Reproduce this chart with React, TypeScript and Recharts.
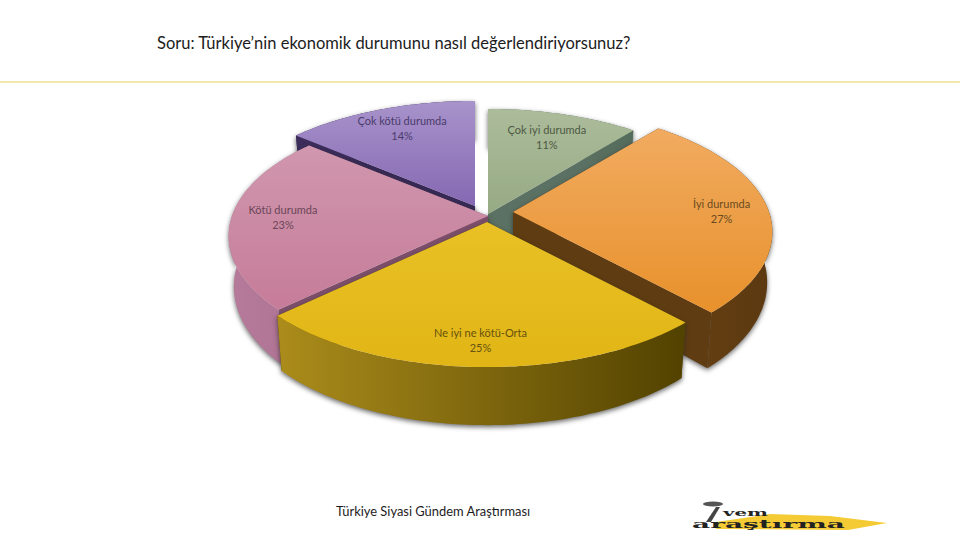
import React from "react";
import { PieChart, Pie } from "recharts";

const categories = ["Çok iyi durumda", "İyi durumda", "Ne iyi ne kötü-Orta", "Kötü durumda", "Çok kötü durumda"];
const values = [11, 27, 25, 23, 14];
const tableData = categories.map((name, i) => ({ name, value: values[i] }));

// layout and style constants
const paintOrder = [4, 0, 3, 1, 2];
const explodeX = [1, 26, 0, 1, -12];
const explodeY = [2, 0, 10, 4, -6];
const labelRadius = [0.748, 0.816, 0.84, 0.8, 0.78];
const labelNudge = [0.2, 1.1, -0.3, 1.3, 1.2];
const topFrom = ["#acbc9b", "#f1ab60", "#e9c126", "#d097ae", "#a893cb"];
const topTo = ["#96aa84", "#e8912c", "#e1b515", "#c67c99", "#8568b2"];
const wallFrom = ["#66796a", "#6a4314", "#ab8c1b", "#b67b9a", "#3c2d5c"];
const wallTo = ["#556b5c", "#5b3810", "#524200", "#ad7091", "#35274f"];
const edge = ["#5b7163", "#5f3c11", "#5c4a05", "#7d4f6a", "#382a56"];
const labelColor = ["#4d5843", "#6b4a1f", "#66520e", "#6b4658", "#4b3b6b"];

const PERSP = 0.16;
const FLAT = 0.476;

function point(theta: number, r: number, R: number) {
  const t = (theta * Math.PI) / 180;
  const u = Math.sin(t) * r;
  const v = -Math.cos(t) * r;
  const d = 1 - PERSP * v;
  return { x: (R * u) / d, y: (R * FLAT * v) / d, v };
}

function lower(p: { x: number; y: number; v: number }) {
  return { x: p.x * 0.98, y: p.y * 0.98 + 49 + 12 * p.v };
}

function pathOf(pts: { x: number; y: number }[], ox: number, oy: number) {
  return "M" + pts.map((p) => `${(p.x + ox).toFixed(1)},${(p.y + oy).toFixed(1)}`).join("L") + "Z";
}

function Slice3D(props: any) {
  const { name, cx, cy, outerRadius, startAngle, endAngle, layer } = props;
  const i = categories.indexOf(name ?? props.payload?.name);
  if (i !== layer) return null;
  const a = 90 - startAngle;
  const b = 90 - endAngle;
  const R = outerRadius;
  const ox = cx + explodeX[i];
  const oy = cy + explodeY[i];
  const arc: any[] = [];
  const steps = Math.max(2, Math.ceil(b - a));
  for (let k = 0; k <= steps; k++) arc.push(point(a + ((b - a) * k) / steps, 1, R));
  const apex = { x: 0, y: 0, v: 0 };
  const first = arc[0];
  const last = arc[arc.length - 1];
  const wall = [...arc, ...arc.map(lower).reverse()];
  const mid = (a + b) / 2 + labelNudge[i];
  const lab = point(mid, labelRadius[i], R);
  return (
    <g>
      <g style={{ filter: "drop-shadow(0px 2px 2.5px rgba(40,40,40,.7))" }}>
        <path d={pathOf([apex, first, lower(first), lower(apex)], ox, oy)} fill={edge[i]} />
        <path d={pathOf([apex, last, lower(last), lower(apex)], ox, oy)} fill={edge[i]} />
        <path d={pathOf(wall, ox, oy)} fill={`url(#wall${i})`} />
      </g>
      <path d={pathOf([apex, ...arc], ox, oy)} fill={`url(#top${i})`} />
      <text
        x={lab.x + ox}
        y={lab.y + oy - 3}
        textAnchor="middle"
        fontFamily="Lato, sans-serif"
        fontSize={11}
        fill={labelColor[i]}
      >
        {categories[i]}
      </text>
      <text
        x={lab.x + ox}
        y={lab.y + oy + 12}
        textAnchor="middle"
        fontFamily="Lato, sans-serif"
        fontSize={11}
        fill={labelColor[i]}
      >
        {values[i]}%
      </text>
    </g>
  );
}

export default function App() {
  return (
    <div style={{ position: "absolute", left: 0, top: 0, width: 960, height: 540, background: "#fff", overflow: "hidden" }}>
      <div
        style={{
          position: "absolute",
          left: 157,
          top: 33,
          fontFamily: "Lato, sans-serif",
          fontSize: 16.5,
          color: "#1c1c1c",
          whiteSpace: "nowrap",
        }}
      >
        Soru: Türkiye’nin ekonomik durumunu nasıl değerlendiriyorsunuz?
      </div>
      <div style={{ position: "absolute", left: 0, top: 81, width: 960, height: 2, background: "#f4e9ad" }} />
      <PieChart width={960} height={540} margin={{ top: 0, right: 0, bottom: 0, left: 0 }} style={{ position: "absolute", left: 0, top: 0 }}>
        <defs>
          {categories.map((_, i) => (
            <linearGradient key={"t" + i} id={`top${i}`} x1="0" y1="0" x2="0" y2="1">
              <stop offset="0%" stopColor={topFrom[i]} />
              <stop offset="100%" stopColor={topTo[i]} />
            </linearGradient>
          ))}
          {categories.map((_, i) => (
            <linearGradient key={"w" + i} id={`wall${i}`} x1="0" y1="0" x2="1" y2="0">
              <stop offset="0%" stopColor={wallFrom[i]} />
              <stop offset="100%" stopColor={wallTo[i]} />
            </linearGradient>
          ))}
        </defs>
        {paintOrder.map((layer) => (
          <Pie
            key={layer}
            data={tableData}
            dataKey="value"
            nameKey="name"
            cx={487}
            cy={212}
            innerRadius={0}
            outerRadius={256}
            startAngle={90}
            endAngle={-270}
            stroke="none"
            isAnimationActive={false}
            shape={(p: any) => <Slice3D {...p} layer={layer} />}
          />
        ))}
      </PieChart>
      <div
        style={{
          position: "absolute",
          left: 336,
          top: 503,
          fontFamily: "Lato, sans-serif",
          fontSize: 12.9,
          color: "#1c1c1c",
          whiteSpace: "nowrap",
        }}
      >
        Türkiye Siyasi Gündem Araştırması
      </div>
      <svg width={960} height={540} style={{ position: "absolute", left: 0, top: 0, pointerEvents: "none" }}>
        <polygon points="716,522 770,514 830,516 887,523 848,530 716,529" fill="#f5cb35" />
        <ellipse cx={713} cy={504} rx={10} ry={2.5} fill="#555" />
        <polygon points="716,507 720,507 711,522 706,522" fill="#444" />
        <text x={723} y={516} fontFamily="'DejaVu Serif', serif" fontWeight={700} fontSize={10} textLength={45} lengthAdjust="spacingAndGlyphs" fill="#222">
          vem
        </text>
        <text x={692} y={528} fontFamily="'DejaVu Serif', serif" fontWeight={700} fontSize={11} textLength={153} lengthAdjust="spacingAndGlyphs" fill="#222">
          araştırma
        </text>
      </svg>
    </div>
  );
}
